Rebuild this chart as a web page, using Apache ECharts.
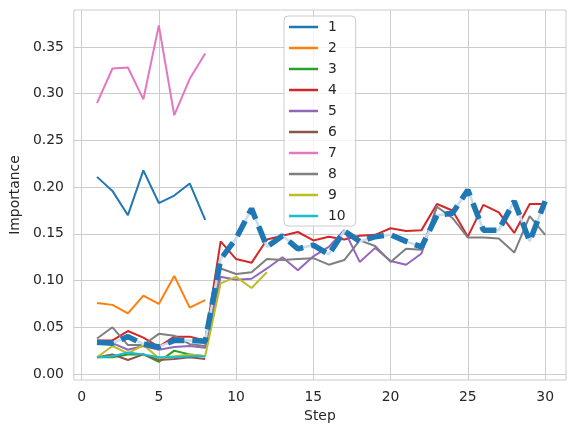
<!DOCTYPE html>
<html>
<head>
<meta charset="utf-8">
<script src="https://cdn.jsdelivr.net/npm/echarts/dist/echarts.min.js"></script>
<style>
  html, body { margin: 0; padding: 0; background: #fff; }
  #chart { width: 576px; height: 432px; }
</style>
</head>
<body>
<div id="chart"></div>
<script>
// x positions (Step)
const steps = [1, 2, 3, 4, 5, 6, 7, 8, 9, 10, 11, 12, 13, 14, 15, 16, 17, 18, 19, 20, 21, 22, 23, 24, 25, 26, 27, 28, 29, 30];

// importance per series
const s1 = [0.211, 0.196, 0.170, 0.218, 0.183, 0.191, 0.204, 0.165];
const s2 = [0.076, 0.074, 0.065, 0.084, 0.075, 0.105, 0.071, 0.079];
const s3 = [0.018, 0.018, 0.021, 0.021, 0.013, 0.025, 0.021, 0.019];
const s4 = [0.036, 0.036, 0.046, 0.039, 0.029, 0.040, 0.040, 0.036, 0.142, 0.123,
            0.119, 0.144, 0.148, 0.152, 0.143, 0.147, 0.144, 0.148, 0.149, 0.156,
            0.153, 0.154, 0.182, 0.175, 0.147, 0.181, 0.173, 0.151, 0.182, 0.182];
const s5 = [0.034, 0.033, 0.026, 0.030, 0.026, 0.029, 0.030, 0.028, 0.104, 0.101,
            0.102, 0.113, 0.125, 0.111, 0.126, 0.136, 0.154, 0.120, 0.135, 0.121,
            0.117, 0.129, 0.180];
const s6 = [0.018, 0.021, 0.015, 0.021, 0.015, 0.016, 0.018, 0.016];
const s7 = [0.290, 0.327, 0.328, 0.294, 0.373, 0.277, 0.316, 0.343];
const s8 = [0.038, 0.050, 0.031, 0.031, 0.043, 0.041, 0.032, 0.030, 0.113, 0.107,
            0.109, 0.123, 0.122, 0.123, 0.124, 0.117, 0.122, 0.143, 0.137, 0.120,
            0.134, 0.133, 0.179, 0.167, 0.146, 0.146, 0.145, 0.130, 0.169, 0.149];
const s9 = [0.018, 0.030, 0.022, 0.031, 0.017, 0.019, 0.021, 0.019, 0.097, 0.104, 0.092, 0.109];
const s10 = [0.018, 0.019, 0.023, 0.021, 0.018, 0.018, 0.019, 0.019];

// thick dashed summary line
const summary = [0.034, 0.033, 0.040, 0.032, 0.029, 0.036, 0.036, 0.035, 0.123, 0.145,
                 0.177, 0.136, 0.148, 0.134, 0.138, 0.128, 0.153, 0.142, 0.147, 0.149,
                 0.142, 0.136, 0.170, 0.172, 0.197, 0.154, 0.154, 0.185, 0.142, 0.185];

const names = ['1', '2', '3', '4', '5', '6', '7', '8', '9', '10'];
const colors = ['#1f77b4', '#ff7f0e', '#2ca02c', '#d62728', '#9467bd',
                '#8c564b', '#e377c2', '#7f7f7f', '#bcbd22', '#17becf'];
const xTicks = [0, 5, 10, 15, 20, 25, 30];
const yTicks = [0, 0.05, 0.1, 0.15, 0.2, 0.25, 0.3, 0.35];

const pair = (vals) => vals.map((v, i) => [steps[i], v]);

const allSeries = [s1, s2, s3, s4, s5, s6, s7, s8, s9, s10];

const font = 'DejaVu Sans';
const textColor = '#262626';

const series = allSeries.map((vals, i) => ({
  name: names[i],
  type: 'line',
  data: pair(vals),
  symbol: 'none',
  lineStyle: { color: colors[i], width: 2 },
  itemStyle: { color: colors[i] },
  z: 2
}));

// light line under the dashes
series.push({
  name: 'summary-under',
  type: 'line',
  data: pair(summary),
  symbol: 'none',
  silent: true,
  lineStyle: { color: '#c6dcef', width: 2.5 },
  z: 3
});
series.push({
  name: 'summary',
  type: 'line',
  data: pair(summary),
  symbol: 'none',
  silent: true,
  lineStyle: { color: '#1f77b4', width: 5.5, type: [17, 8] },
  z: 4
});

const chart = echarts.init(document.getElementById('chart'), null, { renderer: 'canvas' });

const option = {
  animation: false,
  backgroundColor: '#ffffff',
  textStyle: { fontFamily: font },
  grid: {
    left: 70,
    right: 10,
    top: 10,
    bottom: 52,
    show: true,
    borderColor: '#cccccc',
    borderWidth: 1
  },
  legend: {
    data: names,
    orient: 'vertical',
    left: 284,
    top: 16,
    icon: 'rect',
    itemWidth: 29,
    itemHeight: 2.5,
    itemGap: 7,
    padding: [4, 10, 3, 5],
    backgroundColor: 'rgba(255,255,255,0.8)',
    borderColor: '#cccccc',
    borderWidth: 1,
    borderRadius: 4,
    textStyle: {
      fontFamily: font,
      fontSize: 13.9,
      lineHeight: 14,
      color: textColor,
      padding: [0, 0, 0, 5]
    }
  },
  xAxis: {
    type: 'value',
    min: -0.5,
    max: 31.35,
    name: 'Step',
    nameLocation: 'middle',
    nameGap: 26,
    nameTextStyle: { fontFamily: font, fontSize: 13.9, color: textColor },
    axisLine: { show: false },
    axisTick: { show: false, customValues: xTicks },
    axisLabel: { customValues: xTicks, fontFamily: font, fontSize: 13.9, color: textColor, margin: 10 },
    splitLine: { show: true, lineStyle: { color: '#cccccc', width: 1 } }
  },
  yAxis: {
    type: 'value',
    min: -0.0064,
    max: 0.3896,
    name: 'Importance',
    nameLocation: 'middle',
    nameGap: 46,
    nameTextStyle: { fontFamily: font, fontSize: 13.9, color: textColor },
    axisLine: { show: false },
    axisTick: { show: false, customValues: yTicks },
    axisLabel: {
      customValues: yTicks,
      fontFamily: font,
      fontSize: 13.9,
      color: textColor,
      margin: 10,
      formatter: (v) => v.toFixed(2)
    },
    splitLine: { show: true, lineStyle: { color: '#cccccc', width: 1 } }
  },
  series: series
};

chart.setOption(option);
</script>
</body>
</html>
